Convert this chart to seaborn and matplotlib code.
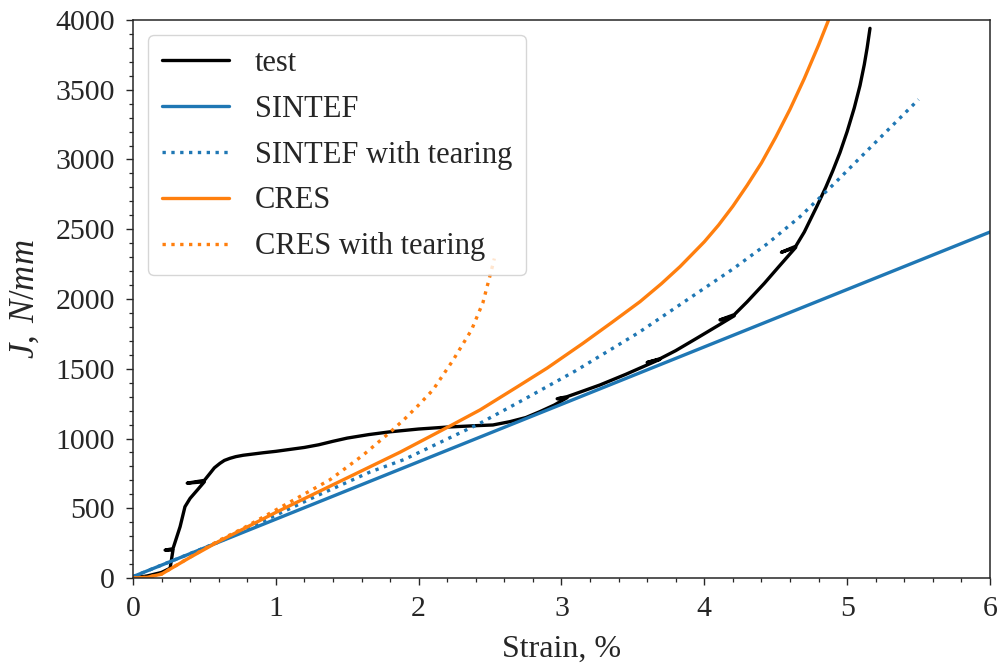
import numpy as np
import pandas as pd
import seaborn as sns
import matplotlib
matplotlib.use("Agg")
import matplotlib.pyplot as plt
from matplotlib.ticker import MultipleLocator

# Measured J-integral vs. strain (test record, with short unloading hooks)
test_strain = [0, 0.1, 0.2, 0.26, 0.28, 0.225, 0.28, 0.33, 0.364, 0.40, 0.45, 0.50,
               0.38, 0.50, 0.539, 0.57, 0.609, 0.64, 0.679, 0.72, 0.772, 0.85, 0.912,
               1.0, 1.10, 1.20, 1.30, 1.40, 1.50, 1.65, 1.80, 2.0, 2.2, 2.4, 2.52,
               2.64, 2.75, 2.85, 2.95, 3.04, 2.97, 3.04, 3.15, 3.27, 3.45,
               3.69, 3.60, 3.69, 3.80, 3.946, 4.10, 4.21, 4.11, 4.21, 4.30, 4.42,
               4.52, 4.64, 4.54, 4.64, 4.70, 4.787, 4.85, 4.90, 4.95, 5.00, 5.05,
               5.09, 5.12, 5.14, 5.16]
test_J = [0, 15, 40, 70, 200, 200, 210, 368, 511, 571, 630, 690,
          680, 700, 750, 790, 822, 843, 858, 870, 880, 890, 898,
          908, 922, 936, 955, 980, 1003, 1028, 1048, 1068, 1082, 1092, 1097,
          1121, 1150, 1193, 1240, 1293, 1285, 1300, 1340, 1384, 1460,
          1568, 1545, 1572, 1630, 1718, 1812, 1880, 1850, 1888, 1980, 2112,
          2230, 2370, 2335, 2378, 2480, 2662, 2800, 2920, 3050, 3200, 3370,
          3530, 3680, 3800, 3940]

# SINTEF model
sintef_strain = [0, 6]
sintef_J = [10, 2480]

# SINTEF model with tearing
sintef_tear_strain = [0, 0.3, 0.6, 1.0, 1.3, 1.66, 1.90, 2.15, 2.42, 2.73, 3.1,
                      3.54, 4.0, 4.2, 4.44, 4.67, 4.9, 5.18, 5.5]
sintef_tear_J = [10, 134, 258, 450, 595, 760, 850, 972, 1104, 1276, 1486,
                 1759, 2077, 2215, 2395, 2590, 2817, 3104, 3430]

# CRES model
cres_strain = [0, 0.1, 0.2, 0.4, 0.6, 1.0, 1.5, 1.87, 2.22, 2.43, 2.69, 2.9, 3.15,
               3.35, 3.55, 3.7, 3.83, 4.0, 4.1, 4.2, 4.3, 4.4, 4.5, 4.6, 4.7,
               4.8, 4.87]
cres_J = [0, 5, 28, 148, 262, 470, 718, 902, 1090, 1205, 1370, 1505, 1682,
          1830, 1981, 2110, 2232, 2410, 2530, 2665, 2815, 2975, 3160, 3360, 3580,
          3820, 4000]

# CRES model with tearing
cres_tear_strain = [0, 0.1, 0.2, 0.4, 0.6, 0.77, 1.1, 1.38, 1.61, 1.80, 1.90,
                    2.0, 2.1, 2.24, 2.37, 2.45, 2.51, 2.53]
cres_tear_J = [0, 5, 28, 150, 268, 356, 545, 705, 880, 1045, 1138,
               1240, 1348, 1560, 1778, 1974, 2208, 2290]

sns.set_style("ticks")
plt.rcParams["font.family"] = ["Liberation Serif", "DejaVu Serif"]
plt.rcParams["mathtext.fontset"] = "custom"
plt.rcParams["mathtext.rm"] = "Liberation Serif"
plt.rcParams["mathtext.it"] = "Liberation Serif:italic"

FS_TICK = 21.5
FS_LABEL = 23
FS_LEG = 22

fig = plt.figure(figsize=(10.02, 6.66), dpi=100)
ax = fig.add_axes([0.1327, 0.1321, 0.988 - 0.1327, 0.970 - 0.1321])

series = [
    ("test", test_strain, test_J, "black", "-"),
    ("SINTEF", sintef_strain, sintef_J, "#1f77b4", "-"),
    ("SINTEF with tearing", sintef_tear_strain, sintef_tear_J, "#1f77b4", ":"),
    ("CRES", cres_strain, cres_J, "#ff7f0e", "-"),
    ("CRES with tearing", cres_tear_strain, cres_tear_J, "#ff7f0e", ":"),
]

for name, xs, ys, color, ls in series:
    df = pd.DataFrame({"strain": xs, "J": ys})
    sns.lineplot(data=df, x="strain", y="J", ax=ax, sort=False, estimator=None,
                 color=color, linestyle=ls, linewidth=2.4, label=name)

ax.set_xlim(0, 6)
ax.set_ylim(0, 4000)
ax.xaxis.set_major_locator(MultipleLocator(1))
ax.xaxis.set_minor_locator(MultipleLocator(0.2))
ax.yaxis.set_major_locator(MultipleLocator(500))
ax.yaxis.set_minor_locator(MultipleLocator(100))
ax.tick_params(which="major", length=5, width=1.0, labelsize=FS_TICK,
               direction="out", pad=8)
ax.tick_params(which="minor", length=3.2, width=0.9, direction="out")
for sp in ax.spines.values():
    sp.set_visible(True)
    sp.set_linewidth(1.1)

ax.set_xlabel("Strain, %", fontsize=FS_LABEL, labelpad=9)
ax.set_ylabel(r"$J,\;N/mm$", fontsize=FS_LABEL + 2, labelpad=10)

leg = ax.legend(loc="upper left", fontsize=FS_LEG, handlelength=2.2, frameon=True,
                framealpha=0.8, fancybox=True, borderpad=0.45, labelspacing=0.55,
                handletextpad=0.85, borderaxespad=0.5)
leg.get_frame().set_edgecolor("#cccccc")

fig.savefig("out.png", dpi=100)
